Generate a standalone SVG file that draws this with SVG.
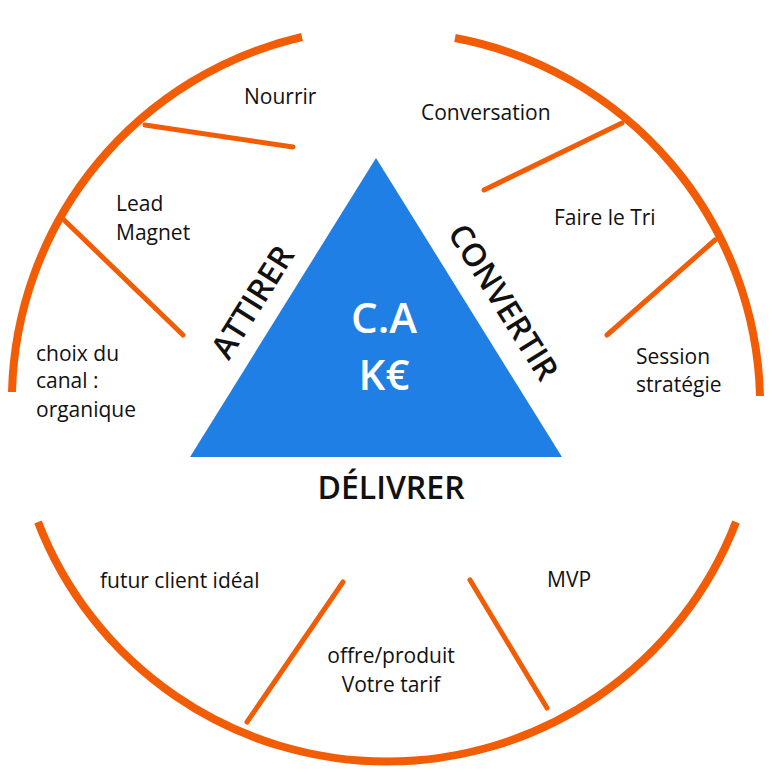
<svg xmlns="http://www.w3.org/2000/svg" width="776" height="776" viewBox="0 0 776 776">
<style>
.arc{fill:none;stroke:#F25C05;stroke-width:8}
.sp{stroke:#F25C05;stroke-width:5;stroke-linecap:round}
.t{font-family:"Open Sans","DejaVu Sans",sans-serif;font-size:21px;fill:#111}
.b{font-family:"Open Sans","DejaVu Sans",sans-serif;font-size:32px;font-weight:600;fill:#111}
.w{font-family:"Open Sans","DejaVu Sans",sans-serif;font-size:42px;font-weight:600;fill:#fff}
</style>
<rect width="776" height="776" fill="#fff"/>
<g id="ring">
<path class="arc" d="M12,392 A374,374 0 0 1 302,37"/>
<path class="arc" d="M455,38 A374,374 0 0 1 760,396"/>
<path class="arc" d="M38,522 A374,374 0 0 0 736,522"/>
</g>
<g id="connectors">
<line class="sp" x1="145" y1="125" x2="293" y2="147"/>
<line class="sp" x1="62" y1="218" x2="183" y2="335"/>
<line class="sp" x1="484" y1="190" x2="622" y2="123"/>
<line class="sp" x1="607" y1="335" x2="715" y2="240"/>
<line class="sp" x1="343" y1="582" x2="247" y2="722"/>
<line class="sp" x1="470" y1="580" x2="547" y2="708"/>
</g>
<g id="triangle">
<polygon points="376,158 190,457 562,457" fill="#1F7FE5"/>
<text class="w" x="384" y="333" text-anchor="middle">C.A</text>
<text class="w" x="384" y="390" text-anchor="middle">K€</text>
</g>
<g id="attirer"><text class="b" text-anchor="middle" transform="translate(262,308) rotate(-58)">ATTIRER</text></g>
<g id="convertir"><text class="b" text-anchor="middle" transform="translate(494,308) rotate(58)">CONVERTIR</text></g>
<g id="delivrer"><text class="b" x="391" y="499" text-anchor="middle">DÉLIVRER</text></g>
<g id="n1"><text class="t" x="244" y="104">Nourrir</text></g>
<g id="n2"><text class="t" x="116" y="211">Lead</text><text class="t" x="116" y="240">Magnet</text></g>
<g id="n3"><text class="t" x="36" y="361">choix du</text><text class="t" x="36" y="388">canal :</text><text class="t" x="36" y="417">organique</text></g>
<g id="n4"><text class="t" x="421" y="120">Conversation</text></g>
<g id="n5"><text class="t" x="554" y="225">Faire le Tri</text></g>
<g id="n6"><text class="t" x="636" y="364">Session</text><text class="t" x="636" y="392">stratégie</text></g>
<g id="n7"><text class="t" x="100" y="588">futur client idéal</text></g>
<g id="n8"><text class="t" x="391" y="663" text-anchor="middle">offre/produit</text><text class="t" x="391" y="692" text-anchor="middle">Votre tarif</text></g>
<g id="n9"><text class="t" x="547" y="587">MVP</text></g>
</svg>
